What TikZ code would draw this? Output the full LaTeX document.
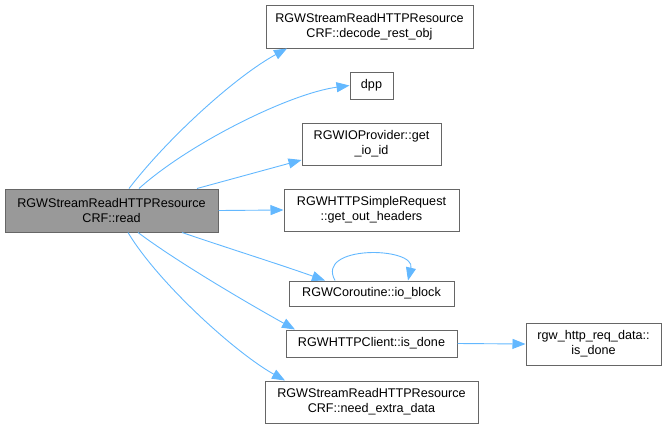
\documentclass[tikz,border=0pt]{standalone}
\usepackage{fontspec}
\setmainfont{Liberation Sans}
\usetikzlibrary{arrows.meta}
\definecolor{edgeblue}{HTML}{63B8FF}
\definecolor{bordergray}{HTML}{666666}
\definecolor{mainfill}{HTML}{999999}
\begin{document}
\begin{tikzpicture}[x=1pt,y=-1pt,
  box/.style={draw=bordergray,line width=1pt,fill=white,rectangle,inner sep=0pt,
    align=center,font=\fontsize{12.6}{15}\selectfont,text=black},
  mainbox/.style={box,fill=mainfill},
  edge/.style={draw=edgeblue,line width=0.9pt,-{Triangle[length=13pt,width=10pt]}}]
\useasboundingbox (0,0) rectangle (667,429);
\node[mainbox,minimum width=213pt,minimum height=43pt] (main) at (111.5,210.5) {RGWStreamReadHTTPResource\\CRF::read};
\node[box,minimum width=207pt,minimum height=43pt] (decode) at (369.5,26.5) {RGWStreamReadHTTPResource\\CRF::decode\_rest\_obj};
\node[box,minimum width=43pt,minimum height=27pt] (dpp) at (371.5,85.5) {dpp};
\node[box,minimum width=139pt,minimum height=42pt] (ioid) at (371.5,144) {RGWIOProvider::get\\\_io\_id};
\node[box,minimum width=175pt,minimum height=42pt] (headers) at (371.5,210) {RGWHTTPSimpleRequest\\::get\_out\_headers};
\node[box,minimum width=165pt,minimum height=25pt] (ioblock) at (371.5,293.5) {RGWCoroutine::io\_block};
\node[box,minimum width=171pt,minimum height=27pt] (isdone) at (371.5,343.5) {RGWHTTPClient::is\_done};
\node[box,minimum width=213pt,minimum height=42pt] (extra) at (371.5,402) {RGWStreamReadHTTPResource\\CRF::need\_extra\_data};
\node[box,minimum width=135pt,minimum height=42pt] (reqdone) at (593.5,344) {rgw\_http\_req\_data::\\is\_done};

\draw[edge] ([xshift=17.5pt]main.north) .. controls +(40,-52) and +(-50,27) .. ([xshift=-82.5pt]decode.south);
\draw[edge] ([xshift=27.5pt]main.north) .. controls +(50,-45) and +(-60,8) .. (dpp.west);
\draw[edge] ([xshift=85.5pt]main.north) -- ([yshift=-16pt]ioid.west);
\draw[edge] (main.east) -- (headers.west);
\draw[edge] ([xshift=70.5pt]main.south) .. controls +(50,17) and +(-45,-16) .. ([xshift=-46.5pt]ioblock.north);
\draw[edge] ([xshift=-36.5pt]ioblock.north) .. controls +(-20,-36) and +(8,-34) .. ([xshift=36.5pt]ioblock.north);
\draw[edge] ([xshift=26.5pt]main.south) .. controls +(40,30) and +(-45,-25) .. ([xshift=-76.5pt]isdone.north);
\draw[edge] ([xshift=16.5pt]main.south) .. controls +(30,50) and +(-50,-28) .. ([xshift=-86.5pt]extra.north);
\draw[edge] (isdone.east) -- (reqdone.west);
\end{tikzpicture}
\end{document}
